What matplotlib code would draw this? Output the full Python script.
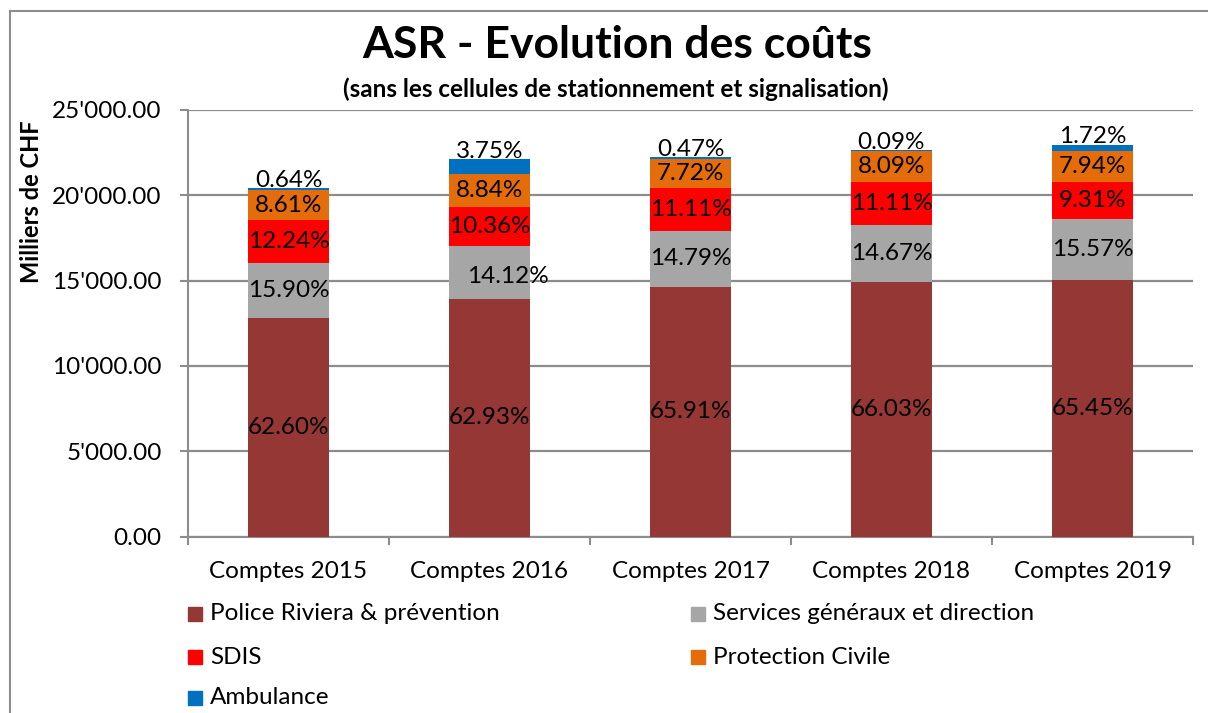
import matplotlib
matplotlib.use("Agg")
import matplotlib.pyplot as plt
from matplotlib.patches import Rectangle
from matplotlib.lines import Line2D
from matplotlib.ticker import FuncFormatter

plt.rcParams['font.family'] = ['Lato', 'DejaVu Sans']

categories = ["Comptes 2015", "Comptes 2016", "Comptes 2017", "Comptes 2018", "Comptes 2019"]
series_names = ["Police Riviera & prévention", "Services généraux et direction",
                "SDIS", "Protection Civile", "Ambulance"]
police = [12789, 13908, 14645, 14943, 15040]
services = [3248, 3121, 3286, 3320, 3578]
sdis = [2501, 2290, 2469, 2514, 2139]
protection = [1759, 1954, 1715, 1831, 1825]
ambulance = [131, 829, 104, 20, 395]

police_lbl = ["62.60%", "62.93%", "65.91%", "66.03%", "65.45%"]
services_lbl = ["15.90%", "14.12%", "14.79%", "14.67%", "15.57%"]
sdis_lbl = ["12.24%", "10.36%", "11.11%", "11.11%", "9.31%"]
protection_lbl = ["8.61%", "8.84%", "7.72%", "8.09%", "7.94%"]
ambulance_lbl = ["0.64%", "3.75%", "0.47%", "0.09%", "1.72%"]

colors = ["#953735", "#A6A6A6", "#FF0000", "#E46C0A", "#0070C0"]

W, H = 1208, 713
fig = plt.figure(figsize=(W / 100, H / 100), dpi=100)

# outer frame (left and top)
fig.add_artist(Line2D([10 / W, 10 / W], [0, 1 - 11 / H], transform=fig.transFigure,
                      color="#8C8C8C", lw=1.5))
fig.add_artist(Line2D([10 / W, 1], [1 - 11 / H, 1 - 11 / H], transform=fig.transFigure,
                      color="#8C8C8C", lw=1.5))

ax = fig.add_axes([188 / W, 1 - 536.5 / H, (1193 - 188) / W, (536.5 - 110) / H])

series = [police, services, sdis, protection, ambulance]
labels = [police_lbl, services_lbl, sdis_lbl, protection_lbl, ambulance_lbl]
x = list(range(len(categories)))
bottoms = [0] * len(categories)
bars_all = []
for vals, col, name in zip(series, colors, series_names):
    b = ax.bar(x, vals, width=0.40, bottom=bottoms, color=col, label=name, zorder=3,
               edgecolor="none")
    bars_all.append(b)
    bottoms = [bo + v for bo, v in zip(bottoms, vals)]

fs = 17.5
for si, (b, lbls) in enumerate(zip(bars_all, labels)):
    for i, (rect, lab) in enumerate(zip(b, lbls)):
        cx = rect.get_x() + rect.get_width() / 2
        if si == 4:
            top = rect.get_y() + rect.get_height()
            ax.text(cx, top + 60, lab, ha="center", va="baseline", fontsize=fs, zorder=5)
        else:
            cy = rect.get_y() + rect.get_height() / 2
            dx = 0.09 if (si == 1 and i == 1) else 0
            dy = -250 if (si == 1 and i == 1) else 0
            ax.text(cx + dx, cy + dy, lab, ha="center", va="center", fontsize=fs, zorder=5)

ax.set_xlim(-0.5, 4.5)
ax.set_ylim(0, 25000)
ax.set_yticks([0, 5000, 10000, 15000, 20000, 25000])
ax.yaxis.set_major_formatter(FuncFormatter(lambda v, p: f"{v:,.2f}".replace(",", "'")))
ax.yaxis.grid(True, color="#8C8C8C", lw=1.6, zorder=0)
ax.set_axisbelow(True)
ax.set_xticks(x)
ax.set_xticklabels(categories, fontsize=fs)
ax.tick_params(axis="x", length=0, pad=18)
ax.tick_params(axis="y", labelsize=fs, length=6, width=1.5, color="#8C8C8C", pad=13)
# category boundary ticks
for xb in [-0.5, 0.5, 1.5, 2.5, 3.5, 4.5]:
    ax.plot([xb, xb], [0, -0.018], transform=ax.get_xaxis_transform(), color="#8C8C8C",
            lw=1.5, clip_on=False)
for sp in ["top", "right"]:
    ax.spines[sp].set_visible(False)
for sp in ["left", "bottom"]:
    ax.spines[sp].set_color("#8C8C8C")
    ax.spines[sp].set_linewidth(1.5)

ax.set_ylabel("Milliers de CHF", fontsize=17, fontweight="bold", labelpad=0)
ax.yaxis.set_label_coords((43 - 188) / (1193 - 188), (536.5 - 202) / (536.5 - 110))

fig.text(617 / W, 1 - 45 / H, "ASR - Evolution des coûts", ha="center", va="center",
         fontsize=32, fontweight="bold")
fig.text(616 / W, 1 - 89 / H, "(sans les cellules de stationnement et signalisation)",
         ha="center", va="center", fontsize=17.5, fontweight="bold")

# legend
leg_pos = [(188, 614), (691, 614), (188, 657), (691, 657), (188, 698)]
for (lx, ly), col, name in zip(leg_pos, colors, series_names):
    fig.add_artist(Rectangle((lx / W, 1 - (ly + 7) / H), 14 / W, 14 / H,
                             transform=fig.transFigure, color=col))
    fig.text((lx + 22) / W, 1 - ly / H, name, ha="left", va="center", fontsize=fs)

fig.savefig("out.png", dpi=100)
